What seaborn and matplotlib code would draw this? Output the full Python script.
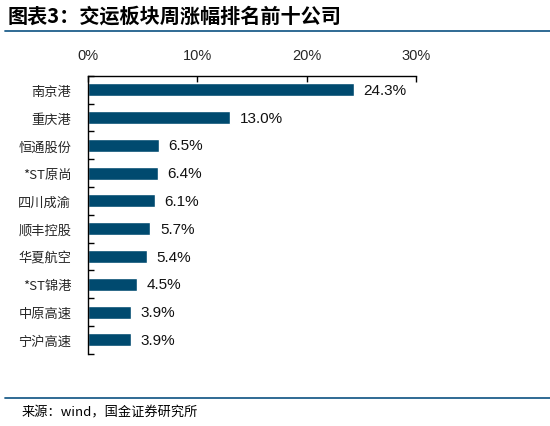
import numpy as np
import pandas as pd
import seaborn as sns
import matplotlib.pyplot as plt
from matplotlib.ticker import FuncFormatter, FixedLocator

# 数据
companies = ['南京港', '重庆港', '恒通股份', '*ST原尚', '四川成渝',
             '顺丰控股', '华夏航空', '*ST锦港', '中原高速', '宁沪高速']
gains = [24.3, 13.0, 6.5, 6.4, 6.1, 5.7, 5.4, 4.5, 3.9, 3.9]
x_ticks = [0, 10, 20, 30]

title_text = '图表3：交运板块周涨幅排名前十公司'
source_text = '来源：wind，国金证券研究所'

df = pd.DataFrame({'company': companies, 'gain': gains})

sns.set_style('white')
plt.rcParams['font.family'] = ['Noto Sans CJK SC', 'DejaVu Sans']
plt.rcParams['axes.unicode_minus'] = False

bar_color = '#004a6f'
line_color = '#1f5f8b'

fig = plt.figure(figsize=(5.5, 4.27), dpi=100)
ax = fig.add_axes([0.16, 0.169, 0.596, 0.651])

sns.barplot(data=df, x='gain', y='company', orient='h', color=bar_color,
            width=0.47, saturation=1, ax=ax)

ax.bar_label(ax.containers[0], labels=[f'{v:.1f}%' for v in gains],
             padding=7, fontsize=11, family='Liberation Sans', color='#111111')

ax.set_xlim(0, 30)
ax.set_xticks(x_ticks)
ax.xaxis.set_major_formatter(FuncFormatter(lambda v, p: f'{v:.0f}%'))
ax.xaxis.tick_top()
ax.tick_params(axis='x', direction='in', length=4, width=1, pad=10,
               labelsize=10.5, color='black')
for lab in ax.get_xticklabels():
    lab.set_family('Liberation Sans')

ax.set_ylim(9.5, -0.5)
ax.yaxis.set_minor_locator(FixedLocator(np.arange(-0.5, 10, 1.0)))
ax.tick_params(axis='y', which='major', length=0, pad=12, labelsize=9.5)
ax.tick_params(axis='y', which='minor', direction='in', length=4, width=1,
               color='black', left=True)

ax.set_xlabel('')
ax.set_ylabel('')
for side in ['right', 'bottom']:
    ax.spines[side].set_visible(False)
for side in ['top', 'left']:
    ax.spines[side].set_visible(True)
    ax.spines[side].set_color('black')
    ax.spines[side].set_linewidth(1)

# 标题与来源
fig.text(0.013, 0.962, title_text, fontsize=14.5, fontweight='bold',
         fontstyle='italic', ha='left', va='center', color='black')
fig.add_artist(plt.Line2D([0.009, 1.0], [0.925, 0.925], color=line_color, lw=1.3))
fig.add_artist(plt.Line2D([0.009, 1.0], [0.066, 0.066], color=line_color, lw=1.3))
fig.text(0.04, 0.033, source_text, fontsize=9.5, ha='left', va='center', color='black')

fig.savefig('out.png', dpi=100)
